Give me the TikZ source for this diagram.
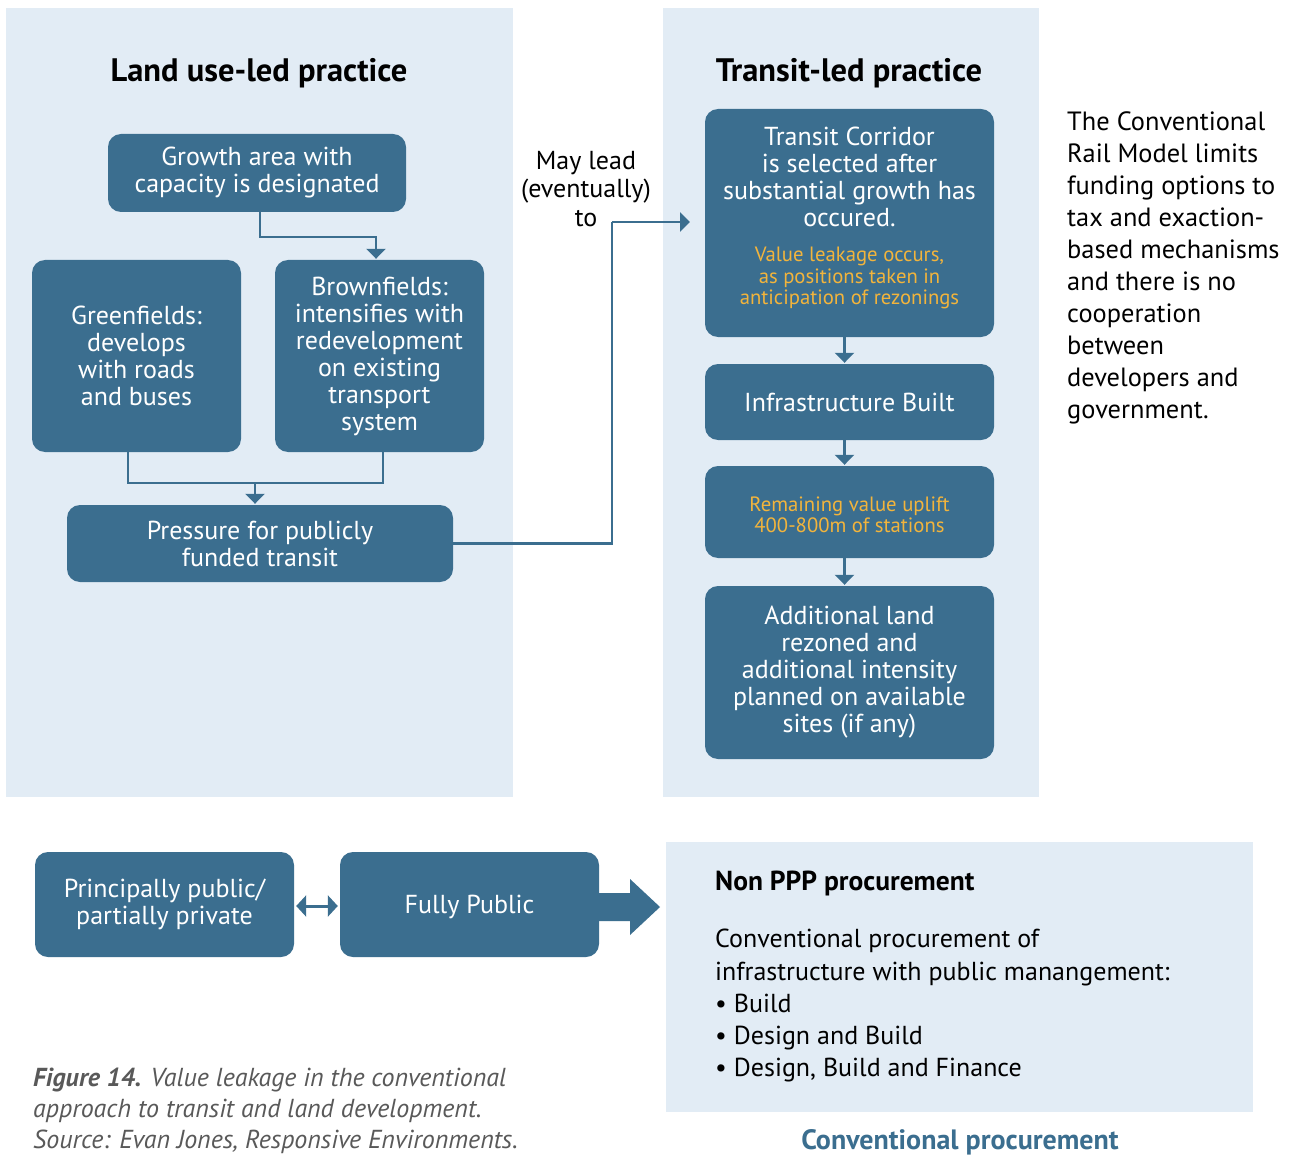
\documentclass[tikz,border=0pt]{standalone}
\usepackage{fontspec}
\setmainfont{PT Sans}
\usetikzlibrary{arrows.meta}
\definecolor{boxblue}{HTML}{3B6E8F}
\definecolor{panel}{HTML}{E2ECF5}
\definecolor{leak}{HTML}{F2B43C}
\definecolor{capgrey}{HTML}{595959}
\begin{document}
\begin{tikzpicture}[x=1pt,y=-1pt,
  box/.style={fill=boxblue,rounded corners=13pt,text=white,align=center,inner sep=0pt,
    font=\fontsize{26}{27}\selectfont},
  ytxt/.style={text=leak,align=center,inner sep=0pt,font=\fontsize{20.7}{21.5}\selectfont},
  wtxt/.style={text=white,align=center,inner sep=0pt,font=\fontsize{26}{27}\selectfont},
  conn/.style={draw=boxblue,line width=2.5pt,-{Triangle[width=19pt,length=10pt]}},
  plain/.style={draw=boxblue,line width=2.5pt},
  ttl/.style={font=\bfseries\fontsize{32.5}{34}\selectfont,inner sep=0pt},
  body/.style={align=left,inner sep=0pt,anchor=north west,font=\fontsize{26.4}{32}\selectfont}
]
\useasboundingbox (0,0) rectangle (1292,1155);
\fill[white] (0,0) rectangle (1292,1155);
% panels
\fill[panel] (6,8) rectangle (513,797);
\fill[panel] (663,8) rectangle (1039,797);
\fill[panel] (666,842) rectangle (1253,1112);
% titles
\node[ttl] (t1) at (259,73) {Land use-led practice};
\node[ttl] (t2) at (849,73) {Transit-led practice};
% left boxes
\node[box,minimum width=298pt,minimum height=78pt] (growth) at (257,173) {Growth area with\\capacity is designated};
\node[box,minimum width=209pt,minimum height=192pt] (green) at (136.5,356) {Greenfields:\\develops\\with roads\\and buses};
\node[box,minimum width=209pt,minimum height=192pt] (brown) at (379.5,356) {Brownfields:\\intensifies with\\redevelopment\\on existing\\transport\\system};
\node[box,minimum width=386pt,minimum height=77pt] (press) at (260,543.5) {Pressure for publicly\\funded transit};
% right boxes
\node[box,minimum width=289pt,minimum height=228pt] (transit) at (849.5,223) {};
\node[wtxt] (transitA) at (849.5,177) {Transit Corridor\\is selected after\\substantial growth has\\occured.};
\node[ytxt] (transitB) at (849.5,278) {Value leakage occurs,\\as positions taken in\\anticipation of rezonings};
\node[box,minimum width=289pt,minimum height=76pt] (infra) at (849.5,402) {Infrastructure Built};
\node[box,minimum width=289pt,minimum height=92pt] (remain) at (849.5,512) {};
\node[ytxt] (remainT) at (849.5,515) {Remaining value uplift\\400-800m of stations};
\node[box,minimum width=289pt,minimum height=173pt] (addl) at (849.5,672.5) {Additional land\\rezoned and\\additional intensity\\planned on available\\sites (if any)};
% middle label
\node[align=center,inner sep=0pt,font=\fontsize{26}{28.5}\selectfont] (may) at (586,189) {May lead\\(eventually)\\to};
% right text
\node[body] (side) at (1067,112) {The Conventional\\Rail Model limits\\funding options to\\tax and exaction-\\based mechanisms\\and there is no\\cooperation\\between\\developers and\\government.};
% connectors left
\coordinate (g1) at (260,237);
\draw[conn,shorten >=1pt] ([xshift=3pt]growth.south) -- (g1) -| ([xshift=-3.5pt]brown.north);
\coordinate (gl) at (128,483);
\coordinate (br) at (383,483);
\coordinate (mid) at (255,483);
\draw[plain] ([xshift=-8.5pt]green.south) -- (gl) -- (br) -- ([xshift=3.5pt]brown.south);
\draw[conn,shorten >=1pt] (mid) -- (mid |- press.north);
% connector to transit
\coordinate (bend) at (612,222);
\coordinate (tend) at (690,222);
\draw[plain] (press.east) -| (bend);
\draw[conn] (bend) -- (tend);
% connectors right
\draw[conn,shorten >=1pt] ([xshift=-5pt]transit.south) -- ([xshift=-5pt]infra.north);
\draw[conn,shorten >=1pt] ([xshift=-5pt]infra.south) -- ([xshift=-5pt]remain.north);
\draw[conn,shorten >=1pt] ([xshift=-5pt]remain.south) -- ([xshift=-5pt]addl.north);
% bottom boxes
\node[box,minimum width=259pt,minimum height=105pt] (princ) at (164.5,904.5) {Principally public/\\partially private};
\node[box,minimum width=259pt,minimum height=105pt,text depth=0pt] (fully) at (469.5,904.5) {Fully Public};
\draw[draw=boxblue,line width=3pt,{Triangle[width=21pt,length=10pt]}-{Triangle[width=21pt,length=10pt]}] ([xshift=2pt]princ.east|-0,906) -- ([xshift=-2pt]fully.west|-0,906);
\fill[boxblue] (595,893) -- (630,893) -- (630,879) -- (660,907) -- (630,935) -- (630,921) -- (595,921) -- cycle;
% Non PPP
\node[inner sep=0pt,anchor=west,font=\bfseries\fontsize{27.5}{30}\selectfont] (npt) at (715,883) {Non PPP procurement};
\node[body,font=\fontsize{26}{32.3}\selectfont] (npb) at (715,929) {Conventional procurement of\\infrastructure with public manangement:\\• Build\\• Design and Build\\• Design, Build and Finance};
\node[inner sep=0pt,text=boxblue,font=\bfseries\fontsize{28}{30}\selectfont] (cp) at (960,1142) {Conventional procurement};
% caption
\node[body,text=capgrey,font=\itshape\fontsize{26}{31}\selectfont] (cap) at (33,1068) {\textbf{Figure 14.} Value leakage in the conventional\\approach to transit and land development.\\Source: Evan Jones, Responsive Environments.};
\end{tikzpicture}
\end{document}
